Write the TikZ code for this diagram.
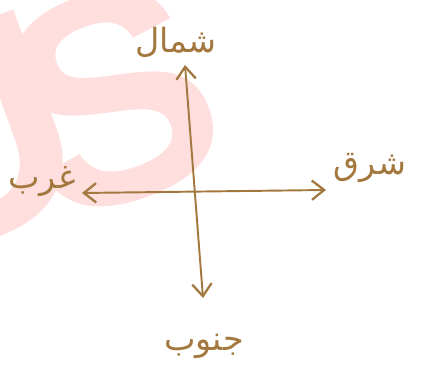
\documentclass[tikz,border=0pt]{standalone}
\usepackage{fontspec}
\usetikzlibrary{arrows.meta, positioning}
\newfontfamily\arabicfont[Script=Arabic]{DejaVu Sans}
\newfontfamily\stampfont{Liberation Sans}
\TeXXeTstate=1
\definecolor{pencil}{RGB}{163,120,62}

\begin{document}
\begin{tikzpicture}[
			x=0.02cm, y=0.02cm,
			every node/.style={font=\arabicfont\fontsize{19}{19}\selectfont, text=pencil},
			axis/.style={
				draw=pencil,
				line width=1.1pt,
				{Straight Barb[length=7pt, width=11pt, line width=1.3pt]}-{Straight Barb[length=7pt, width=11pt, line width=1.3pt]}
			},
			watermark/.style={
				rotate=20,
				text=red!13,
				inner sep=0pt,
				font=\stampfont\bfseries\fontsize{170}{170}\selectfont
			}
			]
			
			% Frame
			\useasboundingbox (0,0) rectangle (428,374);
			\clip (0,0) rectangle (428,374);
			\node (stampu) [watermark] at (-35,236) {U};
			\node (stamps) [watermark] at (112,276) {S};
			
			% Arrow ends
			\coordinate (north) at (185,309);
			\coordinate (south) at (203,76);
			\coordinate (west) at (82,181);
			\coordinate (east) at (326,184);
			
			% Labels
			\node (shamal) at (176,332) {\beginR شمال\endR};
			\node (sharq) at (370,206) {\beginR شرق\endR};
			\node (gharb) at (42,192) {\beginR غرب\endR};
			\node (janub) at (204,28) {\beginR جنوب\endR};
			
			% Axes
			\draw [axis] (west) -- (east);
			\draw [axis] (south) -- (north);
			
		\end{tikzpicture}
\end{document}
